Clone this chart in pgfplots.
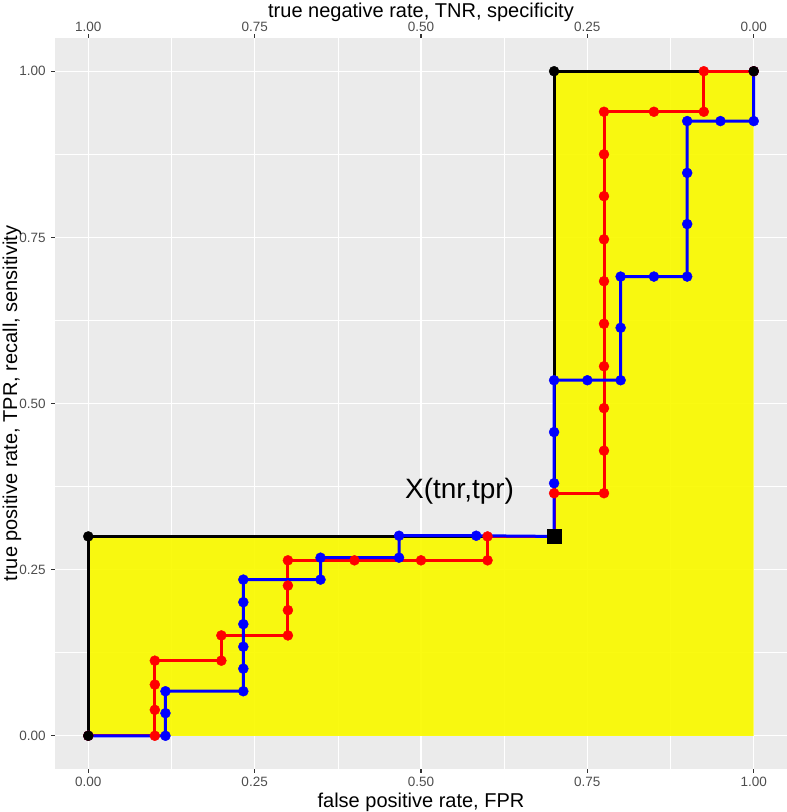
\documentclass[border=0pt]{standalone}
\usepackage{pgfplots}
\pgfplotsset{compat=1.18}
\usepackage{fontspec}
\setmainfont{Liberation Sans}

\definecolor{panelgray}{RGB}{235,235,235}
\definecolor{ticklab}{RGB}{77,77,77}
\definecolor{tickcol}{RGB}{51,51,51}
\definecolor{roiyellow}{RGB}{250,250,0}

% red and blue step curves, black = ideal curve through (tnr,tpr)
\pgfplotstableread{
x y
0 0
0 0.3
0.7 0.3
0.7 1
1 1
}\ideal

\pgfplotstableread{
x y
0 0
0.1 0
0.1 0.039
0.1 0.077
0.1 0.113
0.2 0.113
0.2 0.151
0.3 0.151
0.3 0.189
0.3 0.226
0.3 0.264
0.4 0.264
0.5 0.264
0.6 0.264
0.6 0.3
0.7 0.3
0.7 0.365
0.775 0.365
0.775 0.429
0.775 0.493
0.775 0.556
0.775 0.620
0.775 0.684
0.775 0.747
0.775 0.812
0.775 0.875
0.775 0.939
0.85 0.939
0.925 0.939
0.925 1
1 1
}\redroc

\pgfplotstableread{
x y
0 0
0.116 0
0.116 0.034
0.116 0.067
0.233 0.067
0.233 0.101
0.233 0.134
0.233 0.168
0.233 0.201
0.233 0.235
0.349 0.235
0.349 0.268
0.467 0.268
0.467 0.301
0.583 0.301
0.7 0.3
0.7 0.380
0.7 0.457
0.7 0.535
0.75 0.535
0.8 0.535
0.8 0.614
0.8 0.691
0.85 0.691
0.9 0.691
0.9 0.770
0.9 0.847
0.9 0.925
0.95 0.925
1 0.925
1 1
}\blueroc

\pgfplotsset{
  basestyle/.style={
    at={(0,0)}, anchor=south west,
    scale only axis, width=732pt, height=731pt,
    xmin=-0.05, xmax=1.05, ymin=-0.05, ymax=1.05,
    axis line style={draw=none},
    tick style={tickcol, line width=1.1pt},
    major tick length=3.7pt, minor tick length=0pt,
    tick align=outside,
    /pgf/number format/assume math mode=true,
    ticklabel style={font=\fontsize{13.5}{15}\selectfont, text=ticklab, inner sep=0pt},
    label style={font=\fontsize{20}{24}\selectfont, inner sep=0pt, anchor=center},
  }
}

\begin{document}
\begin{tikzpicture}
% page = panel plus the margins of the reference
\path[use as bounding box] (-55pt,-43pt) rectangle (732pt,769pt);
\begin{axis}[basestyle,
  axis background/.style={fill=panelgray},
  xtick={0,0.25,0.5,0.75,1}, ytick={0,0.25,0.5,0.75,1},
  xticklabels={0.00,0.25,0.50,0.75,1.00},
  yticklabels={0.00,0.25,0.50,0.75,1.00},
  minor xtick={0.125,0.375,0.625,0.875},
  minor ytick={0.125,0.375,0.625,0.875},
  grid=both,
  major grid style={white, line width=1.1pt},
  minor grid style={white, line width=0.55pt},
  xtick pos=left, ytick pos=left,
  xticklabel pos=left, yticklabel pos=left,
  xticklabel shift=4.5pt, yticklabel shift=5.5pt,
  xlabel={false positive rate, FPR},
  xlabel style={at={(axis description cs:0.5,-0.0451)}},
  ylabel={true positive rate, TPR, recall, sensitivity},
  ylabel style={at={(axis description cs:-0.0587,0.5)}},
  clip=false,
]
\addplot[draw=none, fill=roiyellow, fill opacity=0.93]
  coordinates {(0,0) (0,0.3) (0.7,0.3) (0.7,1) (1,1) (1,0)} -- cycle;
\addplot[black, line width=3pt] table {\ideal};
\addplot[red, line width=3pt] table {\redroc};
\addplot[blue, line width=3pt] table {\blueroc};
\addplot[blue, only marks, mark=*, mark size=5pt] table {\blueroc};
\addplot[red, only marks, mark=*, mark size=5pt] table {\redroc};
\addplot[black, only marks, mark=*, mark size=5pt] coordinates {(0,0) (0,0.3) (0.7,1) (1,1)};
\addplot[black, only marks, mark=square*, mark size=7pt] coordinates {(0.7,0.3)};
\node[anchor=base, font=\fontsize{28}{32}\selectfont] at (axis cs:0.558,0.357) {X(tnr,tpr)};
\end{axis}
\begin{axis}[basestyle,
  xtick={0,0.25,0.5,0.75,1},
  xticklabels={1.00,0.75,0.50,0.25,0.00},
  xtick pos=right, xticklabel pos=right,
  xticklabel shift=2.3pt,
  ytick=\empty,
  xlabel={true negative rate, TNR, specificity},
  xlabel style={at={(axis description cs:0.5,1.0356)}},
]
\addplot[draw=none] coordinates {(0,0)};
\end{axis}
\end{tikzpicture}
\end{document}
